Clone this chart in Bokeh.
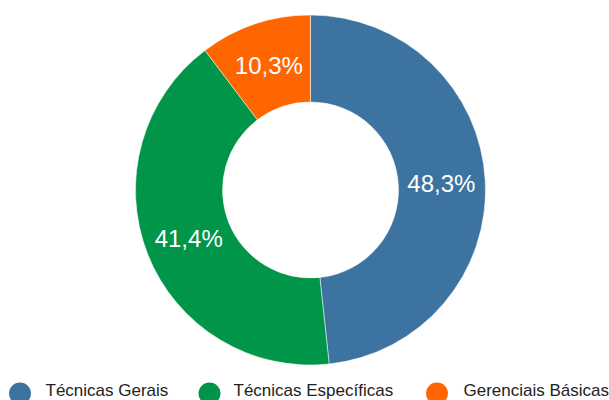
import math
from bokeh.plotting import figure
from bokeh.models import Range1d, ColumnDataSource
from bokeh.core.properties import value
from bokeh.embed import file_html
from bokeh.resources import INLINE

categories = ["Técnicas Gerais", "Técnicas Específicas", "Gerenciais Básicas"]
shares = [48.3, 41.4, 10.3]
colors = ["#3c73a0", "#009549", "#ff6600"]

W, H = 609, 400
cx, cy = 310, H - 189.5
r_out, r_in, r_lab = 175, 88, 131

total = sum(shares)
starts, ends, lx, ly, labels = [], [], [], [], []
cum = 0.0
for s in shares:
    a0 = cum / total
    cum += s
    a1 = cum / total
    # clockwise from top
    starts.append(math.pi / 2 - a1 * 2 * math.pi)
    ends.append(math.pi / 2 - a0 * 2 * math.pi)
    mid = math.pi / 2 - (a0 + a1) / 2 * 2 * math.pi
    lx.append(cx + r_lab * math.cos(mid))
    ly.append(cy + r_lab * math.sin(mid))
    labels.append(f"{s:.1f}".replace(".", ",") + "%")

src = ColumnDataSource(dict(start=starts, end=ends, color=colors, lx=lx, ly=ly, label=labels))

p = figure(width=W, height=H, x_range=Range1d(0, W), y_range=Range1d(0, H),
           output_backend="svg", toolbar_location=None, min_border=0)
p.axis.visible = False
p.grid.visible = False
p.outline_line_color = None
p.background_fill_color = "white"
p.border_fill_color = "white"

p.annular_wedge(x=cx, y=cy, inner_radius=r_in, outer_radius=r_out,
                start_angle="start", end_angle="end", fill_color="color",
                line_color="white", line_width=0.5, source=src)

p.text(x="lx", y="ly", text="label", source=src, text_color="white",
       text_font=value("Liberation Sans"), text_font_size="24px",
       text_align="center", text_baseline="middle")

# legend
leg_marker_x = [19.5, 209, 436.5]
leg_text_x = [45, 233, 463]
lsrc = ColumnDataSource(dict(mx=leg_marker_x, tx=leg_text_x,
                             my=[H - 393] * 3, ty=[H - 390] * 3,
                             color=colors, name=categories))
p.scatter(x="mx", y="my", size=22, marker="circle", fill_color="color",
          line_color=None, source=lsrc)
p.text(x="tx", y="ty", text="name", source=lsrc, text_color="#222222",
       text_font=value("Liberation Sans"), text_font_size="17px",
       text_align="left", text_baseline="middle")

open("out.html", "w").write(file_html(p, INLINE))
